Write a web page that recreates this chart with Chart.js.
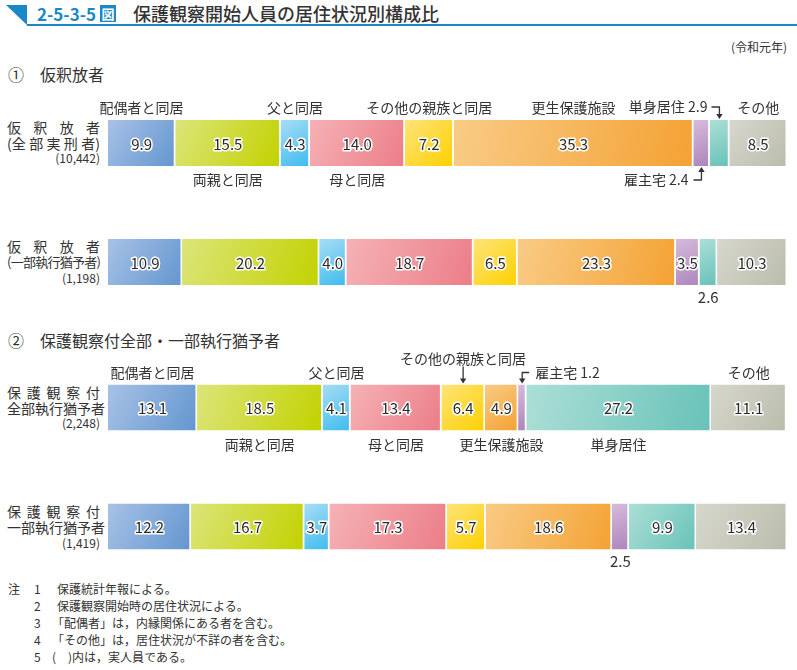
<!DOCTYPE html>
<html><head><meta charset="utf-8">
<script src="https://cdn.jsdelivr.net/npm/chart.js@4.4.1/dist/chart.umd.min.js"></script>
<style>
body{margin:0;background:#fff;width:797px;height:670px;overflow:hidden;position:relative;font-family:"Noto Sans CJK JP","Noto Sans",sans-serif;color:#333;}
.t{position:absolute;white-space:nowrap;line-height:16px;}
.j{position:absolute;left:7px;width:93px;text-align:justify;text-align-last:justify;white-space:nowrap;font-size:14px;line-height:16px;}
.n{position:absolute;right:697px;font-size:12px;line-height:16px;white-space:nowrap;}
canvas{position:absolute;left:0;top:0;}
</style></head><body>
<div style="position:absolute;left:6px;top:5px;width:21px;height:20px;background:#1a88c8;clip-path:polygon(0 0,100% 0,100% 100%);"></div>
<div style="position:absolute;left:27px;top:24px;width:770px;height:1.5px;background:#1a88c8;"></div>
<div class="t" style="left:37px;top:5px;font-size:17px;font-weight:bold;color:#1a88c8;line-height:18px;">2-5-3-5</div>
<div class="t" style="left:100px;top:5px;width:16px;height:17px;background:#1a88c8;color:#fff;font-size:13px;font-weight:bold;line-height:17px;text-align:center;">図</div>
<div class="t" style="left:133px;top:3px;font-size:18px;font-weight:500;line-height:21px;color:#333;">保護観察開始人員の居住状況別構成比</div>
<div class="t" style="right:10px;top:39px;font-size:12px;">(令和元年)</div>
<div class="t" style="left:8px;top:65px;font-size:16px;line-height:18px;">①</div>
<div class="t" style="left:40px;top:65px;font-size:16px;line-height:18px;">仮釈放者</div>
<div class="t" style="left:8px;top:331px;font-size:16px;line-height:18px;">②</div>
<div class="t" style="left:40px;top:331px;font-size:16px;line-height:18px;">保護観察付全部・一部執行猶予者</div>

<div class="j" style="top:119px;">仮 釈 放 者</div>
<div class="j" style="top:135px;">(全 部 実 刑 者)</div>
<div class="n" style="top:150px;">(10,442)</div>
<div class="j" style="top:238px;">仮 釈 放 者</div>
<div class="j" style="top:254px;font-size:13px;letter-spacing:-0.8px;">(一部執行猶予者)</div>
<div class="n" style="top:270px;">(1,198)</div>
<div class="j" style="top:384px;">保 護 観 察 付</div>
<div class="j" style="top:400px;">全部執行猶予者</div>
<div class="n" style="top:415px;">(2,248)</div>
<div class="j" style="top:503px;">保 護 観 察 付</div>
<div class="j" style="top:519px;">一部執行猶予者</div>
<div class="n" style="top:535px;">(1,419)</div>

<div class="t" style="left:8px;top:581px;font-size:12px;">注</div>
<div class="t" style="left:34px;top:581px;font-size:12px;">1</div>
<div class="t" style="left:57px;top:581px;font-size:12px;">保護統計年報による。</div>
<div class="t" style="left:34px;top:598px;font-size:12px;">2</div>
<div class="t" style="left:57px;top:598px;font-size:12px;">保護観察開始時の居住状況による。</div>
<div class="t" style="left:34px;top:615px;font-size:12px;">3</div>
<div class="t" style="left:52px;top:615px;font-size:12px;">「配偶者」は，内縁関係にある者を含む。</div>
<div class="t" style="left:34px;top:632px;font-size:12px;">4</div>
<div class="t" style="left:52px;top:632px;font-size:12px;">「その他」は，居住状況が不詳の者を含む。</div>
<div class="t" style="left:34px;top:649px;font-size:12px;">5</div>
<div class="t" style="left:52px;top:649px;font-size:12px;">(　)内は，実人員である。</div>

<canvas id="c1" width="797" height="670"></canvas>
<canvas id="c2" width="797" height="670"></canvas>
<script>
const categories = ['配偶者と同居','両親と同居','父と同居','母と同居','その他の親族と同居','更生保護施設','雇主宅','単身居住','その他'];
const rows1 = ['仮釈放者(全部実刑者)','仮釈放者(一部執行猶予者)'];
const rows2 = ['保護観察付全部執行猶予者','保護観察付一部執行猶予者'];
const paroleFull      = [9.9, 15.5, 4.3, 14.0, 7.2, 35.3, 2.4, 2.9, 8.5];
const parolePartial   = [10.9, 20.2, 4.0, 18.7, 6.5, 23.3, 3.5, 2.6, 10.3];
const probationFull   = [13.1, 18.5, 4.1, 13.4, 6.4, 4.9, 1.2, 27.2, 11.1];
const probationPartial= [12.2, 16.7, 3.7, 17.3, 5.7, 18.6, 2.5, 9.9, 13.4];

const lightColors = ['#a8c2e6','#dce57a','#a8ddf6','#f5b2b6','#fde47a','#f9cb86','#d6bbdb','#acdfd7','#d7d8cd'];
const darkColors  = ['#6396cf','#c2d200','#3dbcee','#ec7d87','#ffd000','#f4a233','#ad85bc','#68c2b8','#babcab'];

const BP = 46/119;
const FONT = '"Noto Sans CJK JP","Noto Sans",sans-serif';

function grad(ctx, light, dark){
  const chart = ctx.chart;
  if (!chart.chartArea || ctx.type !== 'data') return dark;
  const xs = chart.scales.x, ys = chart.scales.y;
  const ds = chart.data.datasets;
  let before = 0;
  for (let i = 0; i < ctx.datasetIndex; i++) before += ds[i].data[ctx.dataIndex];
  const v = ds[ctx.datasetIndex].data[ctx.dataIndex];
  const x0 = xs.getPixelForValue(before), x1 = xs.getPixelForValue(before + v);
  const yc = ys.getPixelForValue(ctx.dataIndex);
  const h = Math.abs(ys.getPixelForValue(1) - ys.getPixelForValue(0)) * BP / 2;
  const g = chart.ctx.createLinearGradient(x0, yc - h, x1, yc + h);
  g.addColorStop(0, light); g.addColorStop(1, dark);
  return g;
}

function arrowHead(c, x, y, dir){
  c.beginPath();
  if (dir === 'down'){ c.moveTo(x-3.2, y-5); c.lineTo(x+3.2, y-5); c.lineTo(x, y); }
  else { c.moveTo(x-3.2, y+5); c.lineTo(x+3.2, y+5); c.lineTo(x, y); }
  c.closePath(); c.fill();
}

const labelPlugin = {
  id: 'lbl',
  afterDatasetsDraw(chart, args, opts){
    const c = chart.ctx;
    const ds = chart.data.datasets;
    c.save();
    c.textBaseline = 'middle';
    ds.forEach((d, di) => {
      const meta = chart.getDatasetMeta(di);
      meta.data.forEach((el, i) => {
        const v = d.data[i];
        if (v < 3) return;
        const p = el.getProps(['x','base','y'], true);
        const cx = (p.x + p.base)/2;
        c.font = '15px ' + FONT;
        c.textAlign = 'center';
        c.lineJoin = 'round';
        c.lineWidth = 3; c.strokeStyle = '#fff';
        c.strokeText(v.toFixed(1), cx, p.y + 1);
        c.fillStyle = '#2a2a2a';
        c.fillText(v.toFixed(1), cx, p.y + 1);
      });
    });
    (opts.notes || []).forEach(n => {
      const el = chart.getDatasetMeta(n.cat).data[n.bar];
      const p = el.getProps(['x','base','y','height'], true);
      const cx = (p.x + p.base)/2, top = p.y - p.height/2, bot = p.y + p.height/2;
      const v = ds[n.cat].data[n.bar];
      const name = categories[n.cat];
      c.fillStyle = '#333'; c.strokeStyle = '#333'; c.lineWidth = 1.3;
      c.font = '14px ' + FONT;
      if (n.type === 'above'){ c.textAlign='center'; c.fillText(name, cx, top-12); }
      else if (n.type === 'below'){ c.textAlign='center'; c.fillText(name, cx, bot+14); }
      else if (n.type === 'value'){ c.font='15px ' + FONT; c.textAlign='center'; c.fillText(v.toFixed(1), cx, bot+12); }
      else if (n.type === 'aboveDown'){
        c.textAlign='center'; c.fillText(name, cx, top-26);
        c.beginPath(); c.moveTo(cx, top-18); c.lineTo(cx, top-5); c.stroke();
        arrowHead(c, cx, top-1, 'down');
      }
      else if (n.type === 'aboveLeftArrow'){
        const ty = top-13;
        c.textAlign='right'; c.fillText(name + ' ' + v.toFixed(1), cx-12, ty);
        c.beginPath(); c.moveTo(cx-8, ty); c.lineTo(cx, ty); c.lineTo(cx, top-5); c.stroke();
        arrowHead(c, cx, top-1, 'down');
      }
      else if (n.type === 'belowLeftArrow'){
        const ty = bot+14;
        c.textAlign='right'; c.fillText(name + ' ' + v.toFixed(1), cx-13, ty);
        c.beginPath(); c.moveTo(cx-8, ty); c.lineTo(cx, ty); c.lineTo(cx, bot+5); c.stroke();
        arrowHead(c, cx, bot+1, 'up');
      }
      else if (n.type === 'aboveRightArrow'){
        const ty = top-12;
        c.textAlign='left'; c.fillText(name + ' ' + v.toFixed(1), cx+13, ty);
        c.beginPath(); c.moveTo(cx+7, ty); c.lineTo(cx, ty); c.lineTo(cx, top-5); c.stroke();
        arrowHead(c, cx, top-1, 'down');
      }
    });
    c.restore();
  }
};

function makeChart(id, rowNames, rows, notes, padTop, padBottom){
  return new Chart(document.getElementById(id), {
    type: 'bar',
    data: {
      labels: rowNames,
      datasets: categories.map((cat, i) => ({
        label: cat,
        data: rows.map(r => r[i]),
        backgroundColor: ctx => grad(ctx, lightColors[i], darkColors[i]),
        borderColor: '#ffffff',
        borderWidth: {top:0, bottom:0, left:0, right:1.5},
        borderSkipped: false,
        barPercentage: BP,
        categoryPercentage: 1
      }))
    },
    options: {
      indexAxis: 'y',
      responsive: false,
      animation: false,
      events: [],
      layout: {padding: {left:108, right:10, top:padTop, bottom:padBottom}},
      scales: {
        x: {stacked:true, min:0, max:100, display:false},
        y: {stacked:true, display:false}
      },
      plugins: {legend:{display:false}, tooltip:{enabled:false}, lbl:{notes}}
    },
    plugins: [labelPlugin]
  });
}

const notes1 = [
  {bar:0, cat:0, type:'above'}, {bar:0, cat:1, type:'below'}, {bar:0, cat:2, type:'above'},
  {bar:0, cat:3, type:'below'}, {bar:0, cat:4, type:'above'}, {bar:0, cat:5, type:'above'},
  {bar:0, cat:6, type:'belowLeftArrow'}, {bar:0, cat:7, type:'aboveLeftArrow'}, {bar:0, cat:8, type:'above'},
  {bar:1, cat:7, type:'value'}
];
const notes2 = [
  {bar:0, cat:0, type:'above'}, {bar:0, cat:1, type:'below'}, {bar:0, cat:2, type:'above'},
  {bar:0, cat:3, type:'below'}, {bar:0, cat:4, type:'aboveDown'}, {bar:0, cat:5, type:'below'},
  {bar:0, cat:6, type:'aboveRightArrow'}, {bar:0, cat:7, type:'below'}, {bar:0, cat:8, type:'above'},
  {bar:1, cat:6, type:'value'}
];

makeChart('c1', rows1, [paroleFull, parolePartial], notes1, 83.5, 348.5);
makeChart('c2', rows2, [probationFull, probationPartial], notes2, 348, 84);
</script>
</body></html>
